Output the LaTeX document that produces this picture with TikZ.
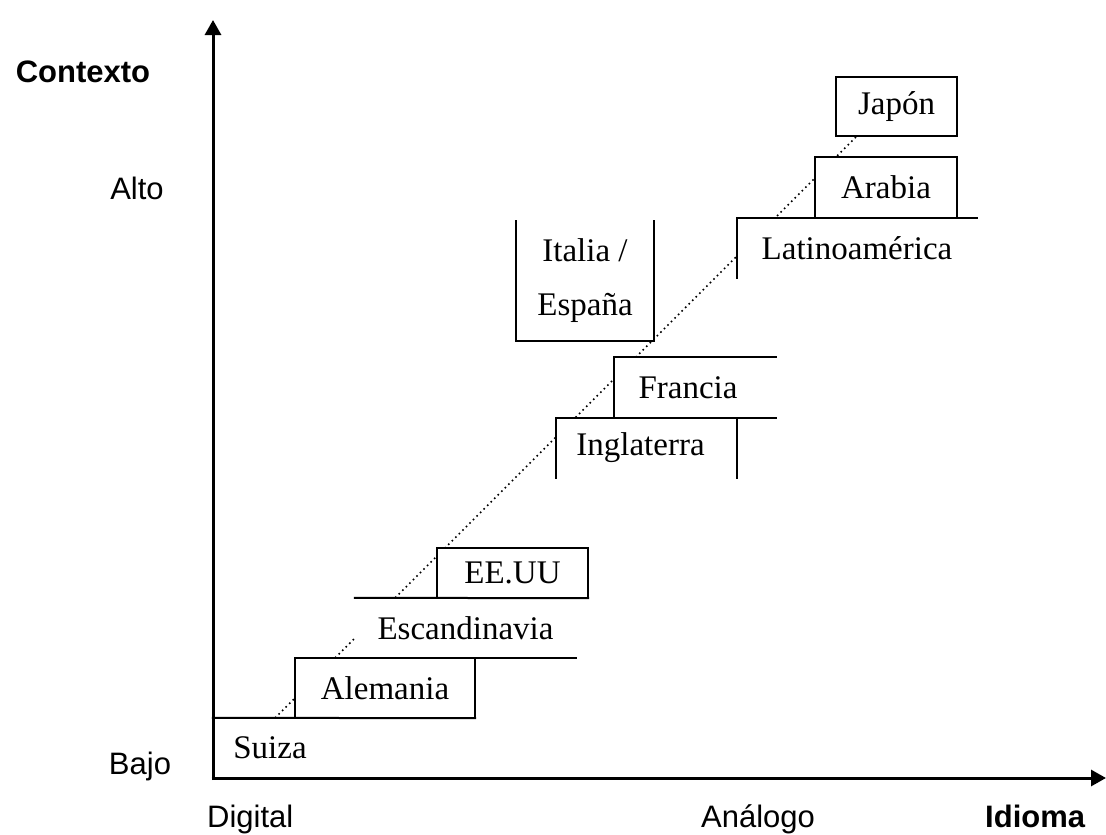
\documentclass[tikz,border=0pt]{standalone}
\usepackage{fontspec}
\setmainfont{Liberation Serif}
\newfontfamily\axisfont{Liberation Sans}
\usetikzlibrary{arrows.meta}
\tikzset{
  lbl/.style={rectangle, fill=white, inner sep=0pt, font=\fontsize{33}{40}\selectfont},
  axl/.style={inner sep=0pt, font=\axisfont\fontsize{31}{36}\selectfont},
  axb/.style={inner sep=0pt, font=\axisfont\bfseries\fontsize{31}{36}\selectfont},
  edge/.style={line width=2pt, line cap=rect},
  axis/.style={line width=3pt, -{Triangle[width=16pt,length=15pt]}},
  diag/.style={line width=1.6pt, dash pattern=on 1.6pt off 3.4pt}
}
\begin{document}
\begin{tikzpicture}[x=1pt,y=-1pt]
\useasboundingbox (0,0) rectangle (1106,835);
\fill[white] (0,0) rectangle (1106,835);
% dotted diagonal
\coordinate (d0) at (275,718);
\coordinate (d1) at (857,136);
\draw[diag] (d0) -- (d1);
% boxes
\node[lbl, minimum width=142pt, minimum height=60pt] (suiza) at (284,748) {\hspace*{-28pt}Suiza};
\node[lbl, minimum width=180pt, minimum height=60pt] (alemania) at (385,688) {Alemania};
\node[lbl, minimum width=221pt, minimum height=60pt] (escand) at (465.5,628) {Escandinavia};
\node[lbl, minimum width=151pt, minimum height=50pt] (eeuu) at (512.5,573) {EE.UU};
\node[lbl, minimum width=181pt, minimum height=60pt] (ingl) at (646.5,448) {\hspace*{-12pt}Inglaterra};
\node[lbl, minimum width=162pt, minimum height=61pt] (francia) at (695,387.5) {\hspace*{-14pt}Francia};
\node[lbl, minimum width=138pt, minimum height=120pt, align=center] (italia) at (585,281) {Italia /\\[14pt]España};
\node[lbl, minimum width=240pt, minimum height=60pt] (latino) at (857,248) {Latinoamérica};
\node[lbl, minimum width=142pt, minimum height=61pt] (arabia) at (886,187.5) {Arabia};
\node[lbl, minimum width=121pt, minimum height=59pt] (japon) at (896.5,106.5) {Japón};
% visible borders
\draw[edge] (suiza.north west) -- (alemania.south east);
\draw[edge] (alemania.south west) |- (escand.south east);
\draw[edge] (alemania.north east) -- (alemania.south east);
\draw[edge] (escand.north west) -- (eeuu.south east);
\draw[edge] (eeuu.south west) rectangle (eeuu.north east);
\draw[edge] (ingl.south west) |- (francia.south east);
\draw[edge] (ingl.north east) -- (ingl.south east);
\draw[edge] (francia.south west) |- (francia.north east);
\draw[edge] (italia.north west) |- (italia.south east) -- (italia.north east);
\draw[edge] (latino.south west) |- (latino.north east);
\draw[edge] (arabia.south west) |- (arabia.north east) -- (arabia.south east);
\draw[edge] (japon.south west) rectangle (japon.north east);
% axes
\coordinate (ytop) at (213,20);
\coordinate (xend) at (1106,778);
\coordinate (o1) at (213,780);
\coordinate (o2) at (211.5,778);
\draw[axis] (o1) -- (ytop);
\draw[axis] (o2) -- (xend);
% axis labels
\node[axb] (contexto) at (83,72) {Contexto};
\node[axl] (alto) at (137,188) {Alto};
\node[axl] (bajo) at (140,766) {Bajo};
\node[axl, anchor=base west] (digital) at (207,827) {Digital};
\node[axl, anchor=base west] (analogo) at (701,827) {Análogo};
\node[axb, anchor=base west] (idioma) at (985,827) {Idioma};
\end{tikzpicture}
\end{document}
